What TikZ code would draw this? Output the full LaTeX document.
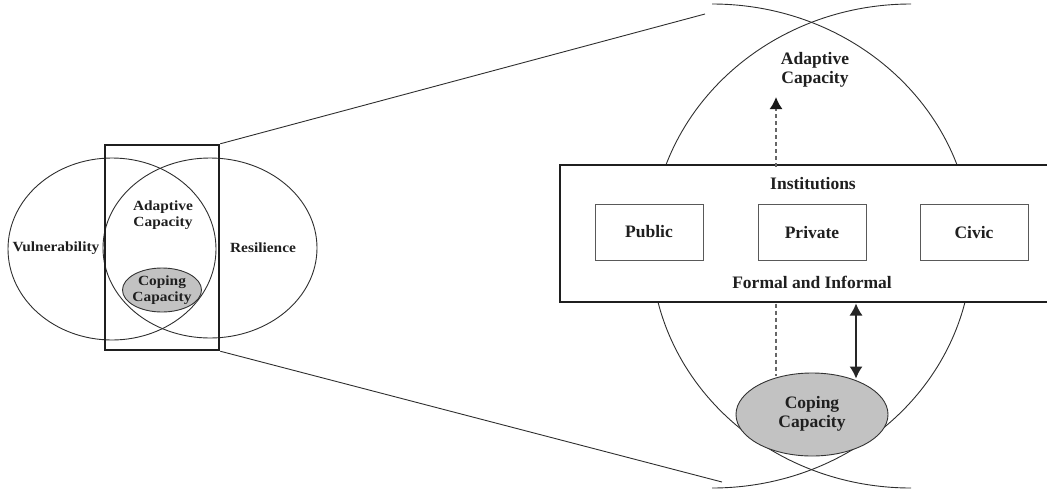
\documentclass[tikz,border=0pt]{standalone}
\usepackage{fontspec}
\setmainfont{Liberation Serif}
\newfontfamily\narrowserif{Liberation Serif}[FakeStretch=1.1]
\usetikzlibrary{arrows.meta,shapes.geometric}

\begin{document}
\begin{tikzpicture}[x=1pt, y=-1pt,
  >={Latex[length=12pt, width=13pt]},
  outline/.style={line width=0.9pt, draw=black!82},
  frame/.style={line width=2.4pt, draw=black!88},
  smalltext/.style={font=\narrowserif\bfseries\fontsize{14}{16}\selectfont, align=center, text=black!88, inner sep=0pt},
  bigtext/.style={font=\bfseries\fontsize{17.5}{19}\selectfont, align=center, text=black!88, inner sep=0pt},
  kindbox/.style={draw=black!65, line width=0.9pt, fill=white, minimum width=108pt, minimum height=56pt, inner sep=0pt},
  coping/.style={ellipse, draw=black!80, line width=0.9pt, fill=black!24, inner sep=0pt},
  dashlink/.style={line width=1.7pt, draw=black!60, dash pattern=on 4pt off 3pt},
]
\useasboundingbox (0,0) rectangle (1047,488);

% ---------- small overview: two overlapping ellipses ----------
\draw[outline] (112,249) ellipse [x radius=104, y radius=91];
\draw[outline] (210,248) ellipse [x radius=107, y radius=90];
\node[coping, minimum width=79pt, minimum height=44pt] (copeS) at (162,290) {};
\node[smalltext] (copeStext) at (162,290) {Coping\\Capacity};
\node[smalltext] (adaptS) at (163,215) {Adaptive\\Capacity};
\node[smalltext] (vuln) at (56,248) {Vulnerability};
\node[smalltext] (resil) at (263,248) {Resilience};

% magnifier frame around the overlap
\node[frame, minimum width=114pt, minimum height=205pt, inner sep=0pt] (lens) at (162,247.5) {};

% zoom rays
\coordinate (rayTop) at (705,14);
\coordinate (rayBot) at (722,482);
\draw[outline] (lens.north east) -- (rayTop);
\draw[outline] (lens.south east) -- (rayBot);

% ---------- enlarged view ----------
\begin{scope}
  \clip (712,0) rectangle (1047,488);
  \draw[outline] (712,246) ellipse [x radius=260, y radius=242];
\end{scope}
\begin{scope}
  \clip (0,0) rectangle (911,488);
  \draw[outline] (911,246) ellipse [x radius=260, y radius=242];
\end{scope}

% institutions band
\path[fill=white] (560,165) rectangle (1047,302);
\draw[frame] (1050,165) -- (560,165) -- (560,302) -- (1050,302);
\node[bigtext] (inst) at (813,184) {Institutions};
\node[bigtext] (formal) at (812,282) {Formal and Informal};
\node[kindbox] (public) at (649,232) {};
\node[kindbox] (private) at (812,232.5) {};
\node[kindbox] (civic) at (974,232.5) {};
\node[bigtext] at (public) {Public};
\node[bigtext] at (private) {Private};
\node[bigtext] at (civic) {Civic};

\node[bigtext] (adaptB) at (815,70) {Adaptive\\Capacity};
\node[coping, minimum width=152pt, minimum height=83pt] (copeB) at (812,414.5) {};
\node[bigtext] (copeBtext) at (812,414) {Coping\\Capacity};

% links between the band and the capacities
\coordinate (bandTop) at (776,166.5);
\coordinate (upTip) at (776,97);
\coordinate (bandLow) at (776,303.5);
\coordinate (copeTop) at (776,376);
\coordinate (pairTop) at (856,303.5);
\coordinate (pairLow) at (856,378.5);
\draw[dashlink, -{Latex[length=12pt, width=13pt, black!90]}] (bandTop) -- (upTip);
\draw[dashlink] (bandLow) -- (copeTop);
\draw[line width=1.2pt, draw=black!85, <->] (pairTop) -- (pairLow);
\end{tikzpicture}
\end{document}
